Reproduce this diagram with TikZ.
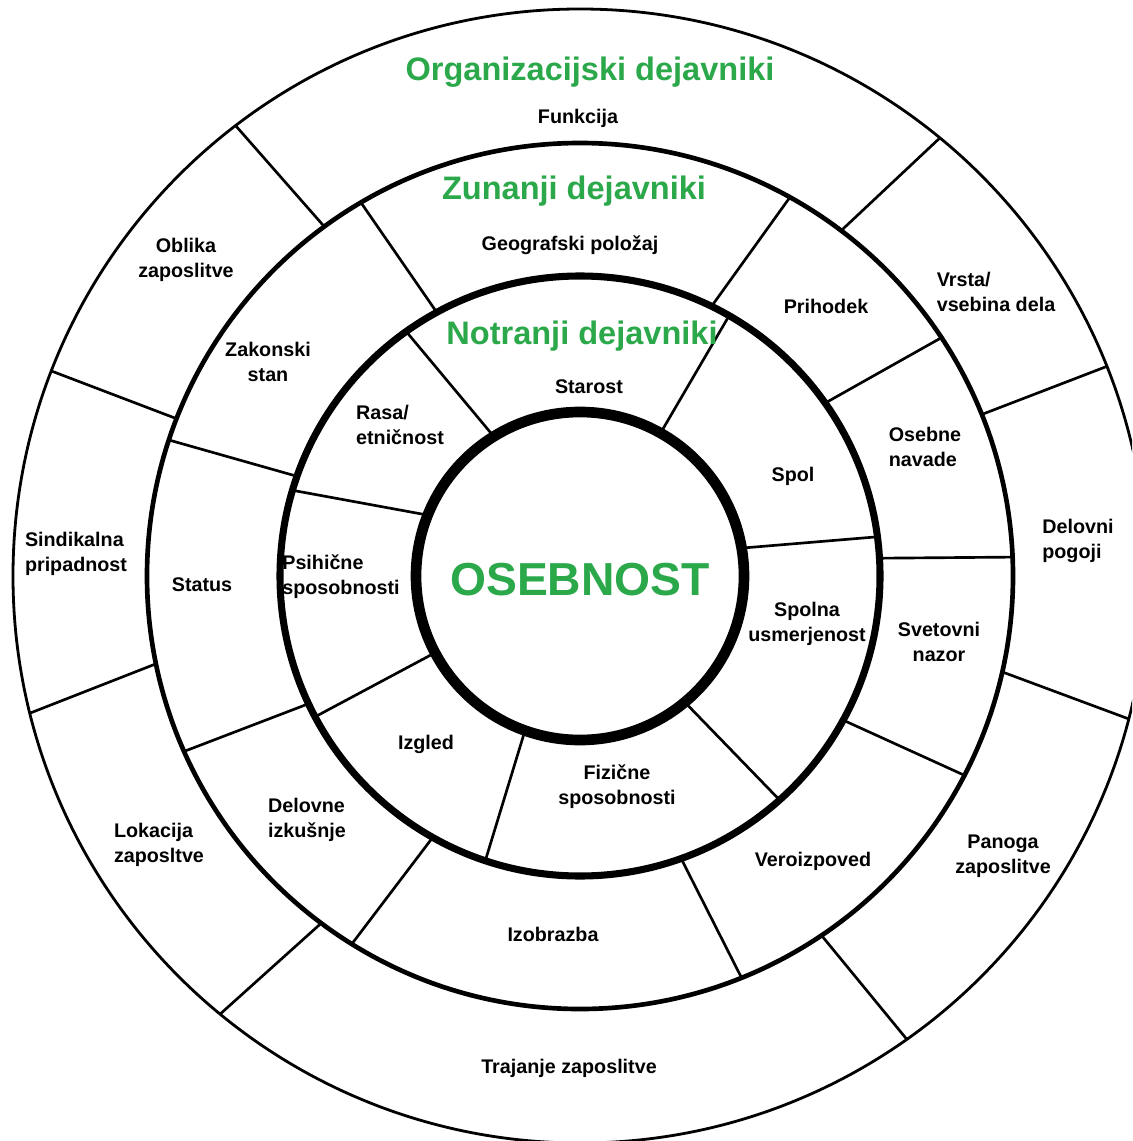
\documentclass[tikz,border=0pt]{standalone}
\usepackage{fontspec}
\setmainfont{Liberation Sans}

\definecolor{dejgreen}{RGB}{43,168,74}

\tikzset{every picture/.style={line width=0.75pt}}
\tikzset{
  lbl/.style={inner sep=0.75pt, align=center, font=\bfseries\fontsize{14.8}{18.75}\selectfont},
  lblleft/.style={lbl, align=left},
  ringhead/.style={inner sep=0.75pt, text=dejgreen, font=\bfseries\fontsize{24.4}{29}\selectfont},
  divider/.style={line width=2pt},
}

\begin{document}
\begin{tikzpicture}[x=0.75pt,y=0.75pt,yscale=-1,xscale=1]
        \useasboundingbox (0,0) rectangle (1132,1141);
        \fill [white] (0,0) rectangle (1132,1141);
        \clip (0,0) rectangle (1132,1141);

        %Straight Lines [inner band]
        \draw [divider] (493.8,436.5) -- (406.2,331.5) ;
        \draw [divider] (660.5,433.1) -- (729.1,315.7) ;
        \draw [divider] (741.6,548.1) -- (877.4,536.8) ;
        \draw [divider] (684.8,702.2) -- (779.6,800.0) ;
        \draw [divider] (525.0,730.5) -- (485.3,860.7) ;
        \draw [divider] (435.1,652.7) -- (315.1,716.8) ;
        \draw [divider] (427.7,515.1) -- (292.5,490.3) ;

        %Straight Lines [middle band]
        \draw [divider] (436.8,312.4) -- (360.9,202.5) ;
        \draw [divider] (711.5,306.4) -- (789.9,197.3) ;
        \draw [divider] (825.1,403.1) -- (941.5,337.6) ;
        \draw [divider] (879.5,558.2) -- (1012.6,557.1) ;
        \draw [divider] (843.1,720.1) -- (964.4,775.3) ;
        \draw [divider] (681.1,858.5) -- (741.5,977.7) ;
        \draw [divider] (432.7,837.4) -- (351.8,944.0) ;
        \draw [divider] (308.6,703.7) -- (184.1,751.4) ;
        \draw [divider] (297.0,476.3) -- (168.9,440.0) ;

        %Straight Lines [outer band]
        \draw [divider] (324.3,226.6) -- (235.6,125.6) ;
        \draw [divider] (841.2,230.6) -- (939.9,137.9) ;
        \draw [divider] (981.7,414.5) -- (1106.8,366.4) ;
        \draw [divider] (1002.2,671.9) -- (1128.7,718.9) ;
        \draw [divider] (821.5,935.4) -- (906.8,1039.3) ;
        \draw [divider] (321.2,923.2) -- (220.1,1014.1) ;
        \draw [divider] (156.0,663.8) -- (29.8,713.2) ;
        \draw [divider] (176.6,418.7) -- (51.4,371.0) ;

        %Shape: Circle [id:outer]
        \draw [line width=2.1pt] (580,576) circle [radius=567] ;
        %Shape: Circle [id:org]
        \draw [line width=3.5pt] (580,576) circle [radius=433] ;
        %Shape: Circle [id:zun]
        \draw [line width=5.3pt] (580,576) circle [radius=300] ;
        %Shape: Circle [id:core]
        \draw [line width=8pt] (580,576) circle [radius=164] ;

        % Text Node
        \node (orghead) at (590,72) [ringhead] {Organizacijski dejavniki};
        \node (zunhead) at (574,191) [ringhead] {Zunanji dejavniki};
        \node (nothead) at (582,336) [ringhead] {Notranji dejavniki};
        \node (osebnost) at (580,580) [inner sep=0.75pt, text=dejgreen, font=\bfseries\fontsize{34.7}{40}\selectfont] {OSEBNOST};

        % Text Node
        \node (funkcija) at (578,118) [lbl] {Funkcija};
        \node (oblika) at (186,260) [lbl] {Oblika\\zaposlitve};
        \node (vrsta) at (996,292) [lblleft] {Vrsta/\\vsebina dela};
        \node (sindikat) at (76,554) [lblleft] {Sindikalna\\pripadnost};
        \node (pogoji) at (1078,541) [lblleft] {Delovni\\pogoji};
        \node (lokacija) at (159,845) [lblleft] {Lokacija\\zaposltve};
        \node (panoga) at (1003,856) [lbl] {Panoga\\zaposlitve};
        \node (trajanje) at (569,1068) [lbl] {Trajanje zaposlitve};

        % Text Node
        \node (geo) at (570,245) [lbl] {Geografski položaj};
        \node (prihodek) at (826,306) [lbl] {Prihodek};
        \node (zakon) at (268,362) [lbl] {Zakonski\\stan};
        \node (navade) at (925,447) [lblleft] {Osebne\\navade};
        \node (status) at (202,585) [lbl] {Status};
        \node (nazor) at (939,642) [lbl] {Svetovni\\nazor};
        \node (izkusnje) at (307,820) [lblleft] {Delovne\\izkušnje};
        \node (vera) at (813,861) [lbl] {Veroizpoved};
        \node (izobrazba) at (553,934) [lbl] {Izobrazba};

        % Text Node
        \node (starost) at (589,387) [lbl] {Starost};
        \node (rasa) at (400,425) [lblleft] {Rasa/\\etničnost};
        \node (spol) at (793,476) [lbl] {Spol};
        \node (psiha) at (341,577) [lblleft] {Psihične\\sposobnosti};
        \node (usmerjenost) at (807,624) [lbl] {Spolna\\usmerjenost};
        \node (izgled) at (426,744) [lbl] {Izgled};
        \node (fizicne) at (617,787) [lbl] {Fizične\\sposobnosti};

\end{tikzpicture}
\end{document}
